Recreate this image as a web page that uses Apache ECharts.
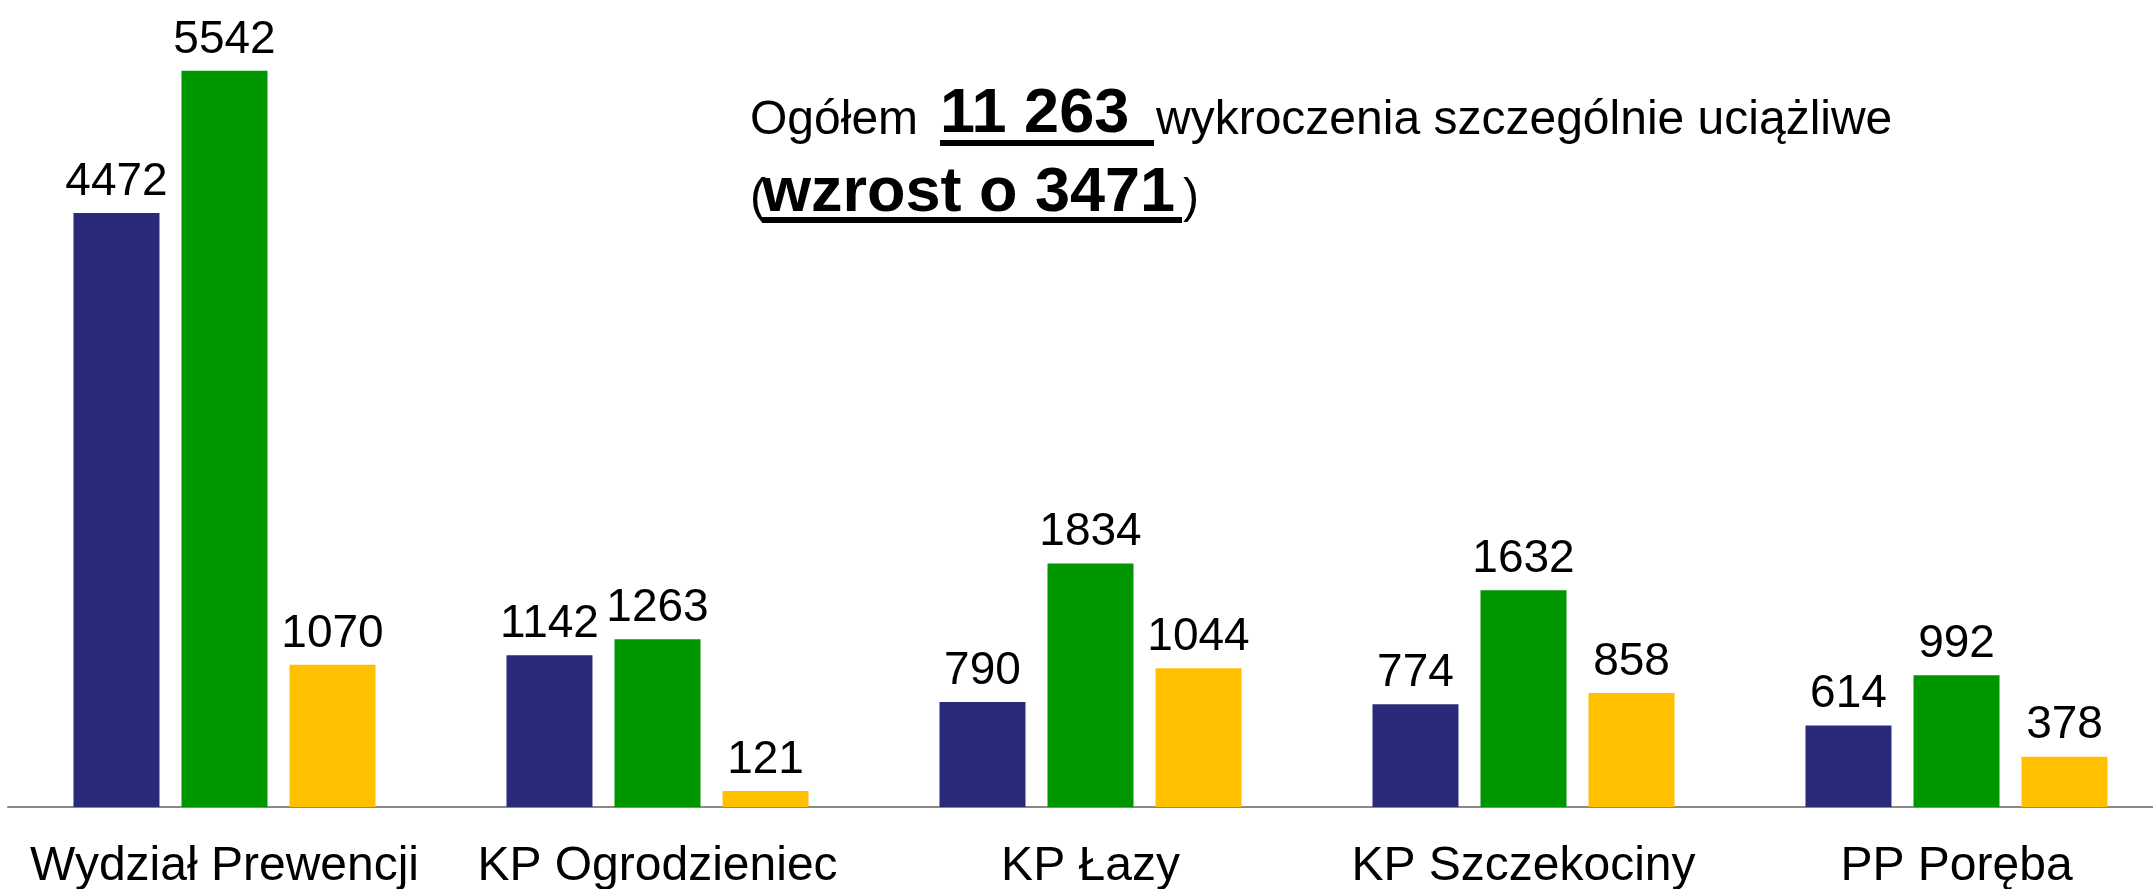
<!DOCTYPE html>
<html>
<head>
<meta charset="utf-8">
<script src="https://cdn.jsdelivr.net/npm/echarts@6/dist/echarts.min.js"></script>
<style>
  html, body { margin: 0; padding: 0; background: #fff; }
  #chart { width: 2153px; height: 889px; }
</style>
</head>
<body>
<div id="chart"></div>
<script>
const categories = ["Wydział Prewencji", "KP Ogrodzieniec", "KP Łazy", "KP Szczekociny", "PP Poręba"];
const seriesNames = ["Seria 1", "Seria 2", "Seria 3"];
const values1 = [4472, 1142, 790, 774, 614];
const values2 = [5542, 1263, 1834, 1632, 992];
const values3 = [1070, 121, 1044, 858, 378];
const colors = ["#2a2a7b", "#009600", "#ffc000"];

const FONT = '"Liberation Sans", Arial, sans-serif';

function make_series(name, data, color) {
    return {
        name: name,
        type: "bar",
        data: data,
        barWidth: 86,
        barGap: "25.6%",
        itemStyle: { color: color },
        label: {
            show: true,
            position: "top",
            distance: 8,
            color: "#000",
            fontFamily: FONT,
            fontSize: 46,
        },
    };
}

function txt(text, x, y, size, bold) {
    return {
        type: "text",
        left: x,
        top: y,
        style: {
            text: text,
            fill: "#000",
            fontFamily: FONT,
            fontSize: size,
            fontWeight: bold ? "bold" : "normal",
        },
    };
}

function render_chart() {
    const chart = echarts.init(document.getElementById("chart"));
    chart.setOption({
        animation: false,
        grid: { left: 8, width: 2165, top: 10, bottom: 82, outerBoundsMode: "none", containLabel: false },
        xAxis: {
            type: "category",
            data: categories,
            axisLine: { lineStyle: { color: "#888", width: 2 } },
            axisTick: { show: false },
            axisLabel: { color: "#000", fontFamily: FONT, fontSize: 48, margin: 36, interval: 0 },
        },
        yAxis: {
            type: "value",
            min: 0,
            max: 6000,
            show: false,
            splitLine: { show: false },
        },
        series: [
            make_series(seriesNames[0], values1, colors[0]),
            make_series(seriesNames[1], values2, colors[1]),
            make_series(seriesNames[2], values3, colors[2]),
        ],
        graphic: [
            txt("Ogółem", 750, 97, 48, false),
            txt("11 263 ", 940, 83, 63, true),
            { type: "rect", shape: { x: 940, y: 140, width: 214, height: 6 }, style: { fill: "#000" } },
            txt("wykroczenia szczególnie uciążliwe", 1156, 97, 48, false),
            txt("(", 750, 175, 48, false),
            txt("wzrost o 3471", 762, 162, 63, true),
            { type: "rect", shape: { x: 762, y: 217, width: 420, height: 6 }, style: { fill: "#000" } },
            txt(")", 1183, 175, 48, false),
        ],
    });
}

window.addEventListener("load", render_chart);
</script>
</body>
</html>
